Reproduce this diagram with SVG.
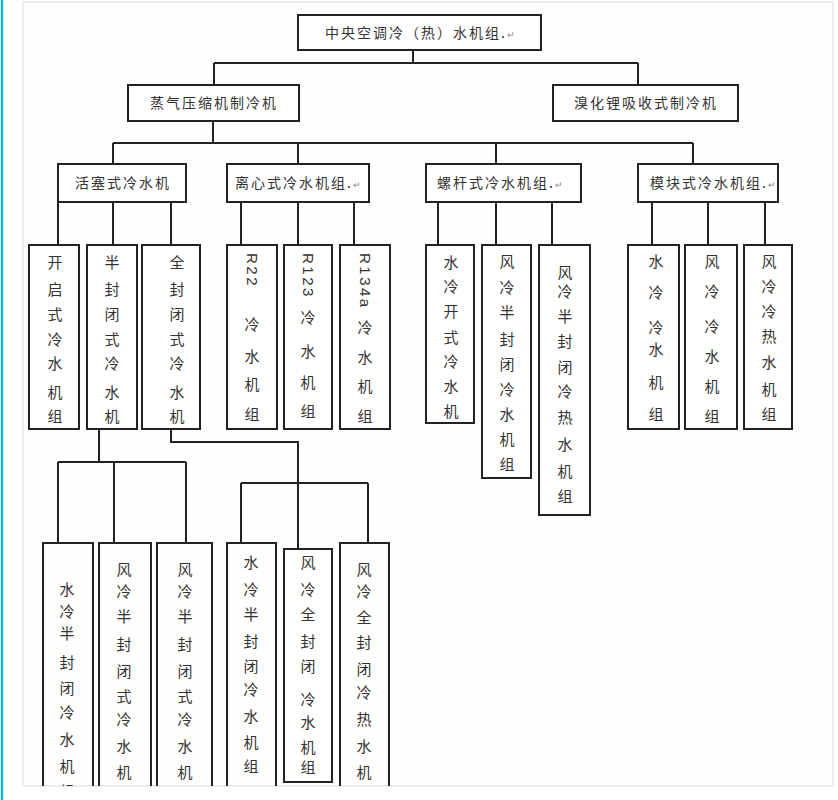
<svg xmlns="http://www.w3.org/2000/svg" width="838" height="800" viewBox="0 0 838 800">
<style>
.box{fill:#fff;stroke:#222;stroke-width:2}
.open{fill:none;stroke:#222;stroke-width:2}
.ln{fill:none;stroke:#222;stroke-width:2}
.h{font-family:"Noto Sans CJK SC","Noto Sans",sans-serif;font-size:14px;fill:#333;text-anchor:middle;letter-spacing:2px}
.v{font-family:"Noto Sans CJK SC","Noto Sans",sans-serif;font-size:15px;fill:#333;text-anchor:middle}
.r{font-family:"Liberation Sans","Noto Sans",sans-serif;font-size:15px;fill:#333;letter-spacing:2.5px;dominant-baseline:central}
.pm{font-size:9px;fill:#888;letter-spacing:0}
</style>
<defs>
<clipPath id="frame"><rect x="23" y="2" width="810" height="784"/></clipPath>
</defs>
<rect x="0" y="0" width="838" height="800" fill="#fff"/>
<rect x="23" y="2" width="810" height="784" fill="#fefefd" stroke="#e6e6e6" stroke-width="1.5"/>
<line x1="2" y1="0" x2="2" y2="800" stroke="#1cb2d6" stroke-width="2.5"/>

<g clip-path="url(#frame)">
<g id="connectors">
<path class="ln" d="M413,50V63M214,63H638M214,63V85M638,63V85"/>
<path class="ln" d="M213,121V143M113,143H693M113,143V164M298,143V164M496,143V164M693,143V164"/>
<path class="ln" d="M58,202V245M113,202V245M171,202V245M241,202V245M298,202V245M354,202V245M438,202V245M496,202V245M552,202V245M652,202V245M708,202V245M765,202V245"/>
<path class="ln" d="M99,429V462M58,462H186M58,462V543M114,462V543M186,462V543"/>
<path class="ln" d="M171,429V442H298V549M241,483H368M241,483V543M368,483V543"/>
</g>

<g id="n-root">
<rect class="box" x="298" y="15" width="243" height="35"/>
<text class="h" x="420" y="38">中央空调冷（热）水机组.<tspan class="pm">↵</tspan></text>
</g>
<g id="n-vapor">
<rect class="box" x="128" y="85" width="171" height="36"/>
<text class="h" x="214" y="108">蒸气压缩机制冷机</text>
</g>
<g id="n-absorb">
<rect class="box" x="553" y="85" width="185" height="36"/>
<text class="h" x="646" y="108">溴化锂吸收式制冷机</text>
</g>

<g id="n-piston">
<rect class="box" x="58" y="164" width="128" height="38"/>
<text class="h" x="123" y="188">活塞式冷水机</text>
</g>
<g id="n-centri">
<rect class="box" x="227" y="164" width="142" height="38"/>
<text class="h" x="298" y="188">离心式冷水机组.<tspan class="pm">↵</tspan></text>
</g>
<g id="n-screw">
<rect class="box" x="426" y="164" width="155" height="38"/>
<text class="h" x="500" y="188">螺杆式冷水机组.<tspan class="pm">↵</tspan></text>
</g>
<g id="n-module">
<rect class="box" x="638" y="164" width="140" height="38"/>
<text class="h" x="713" y="188">模块式冷水机组.<tspan class="pm">↵</tspan></text>
</g>

<g id="n-open">
<rect class="box" x="29" y="245" width="50" height="184"/>
<text class="v"><tspan x="55" y="268">开</tspan><tspan x="55" y="295">启</tspan><tspan x="55" y="320">式</tspan><tspan x="55" y="345">冷</tspan><tspan x="55" y="369">水</tspan><tspan x="55" y="398">机</tspan><tspan x="55" y="422">组</tspan></text>
</g>
<g id="n-semi">
<rect class="box" x="87" y="245" width="50" height="184"/>
<text class="v"><tspan x="112" y="268">半</tspan><tspan x="112" y="295">封</tspan><tspan x="112" y="320">闭</tspan><tspan x="112" y="345">式</tspan><tspan x="112" y="369">冷</tspan><tspan x="112" y="398">水</tspan><tspan x="112" y="422">机</tspan></text>
</g>
<g id="n-full">
<rect class="box" x="142" y="245" width="58" height="184"/>
<text class="v"><tspan x="177" y="268">全</tspan><tspan x="177" y="295">封</tspan><tspan x="177" y="320">闭</tspan><tspan x="177" y="345">式</tspan><tspan x="177" y="369">冷</tspan><tspan x="177" y="398">水</tspan><tspan x="177" y="422">机</tspan></text>
</g>
<g id="n-r22">
<rect class="box" x="227" y="245" width="50" height="184"/>
<text class="r" transform="translate(252,253) rotate(90)">R22</text>
<text class="v"><tspan x="252" y="330">冷</tspan><tspan x="252" y="362">水</tspan><tspan x="252" y="390">机</tspan><tspan x="252" y="420">组</tspan></text>
</g>
<g id="n-r123">
<rect class="box" x="284" y="245" width="48" height="184"/>
<text class="r" transform="translate(308,253) rotate(90)">R123</text>
<text class="v"><tspan x="308" y="323">冷</tspan><tspan x="308" y="357">水</tspan><tspan x="308" y="388">机</tspan><tspan x="308" y="417">组</tspan></text>
</g>
<g id="n-r134a">
<rect class="box" x="340" y="245" width="50" height="184"/>
<text class="r" transform="translate(365,253) rotate(90)">R134a</text>
<text class="v"><tspan x="365" y="333">冷</tspan><tspan x="365" y="363">水</tspan><tspan x="365" y="392">机</tspan><tspan x="365" y="422">组</tspan></text>
</g>

<g id="n-wopen">
<rect class="box" x="426" y="245" width="48" height="178"/>
<text class="v"><tspan x="451" y="268">水</tspan><tspan x="451" y="292">冷</tspan><tspan x="451" y="317">开</tspan><tspan x="451" y="343">式</tspan><tspan x="451" y="367">冷</tspan><tspan x="451" y="392">水</tspan><tspan x="451" y="417">机</tspan></text>
</g>
<g id="n-asemi">
<rect class="box" x="482" y="245" width="49" height="233"/>
<text class="v"><tspan x="507" y="267">风</tspan><tspan x="507" y="293">冷</tspan><tspan x="507" y="318">半</tspan><tspan x="507" y="345">封</tspan><tspan x="507" y="370">闭</tspan><tspan x="507" y="395">冷</tspan><tspan x="507" y="420">水</tspan><tspan x="507" y="445">机</tspan><tspan x="507" y="470">组</tspan></text>
</g>
<g id="n-asemihp">
<rect class="box" x="539" y="245" width="51" height="270"/>
<text class="v"><tspan x="565" y="278">风</tspan><tspan x="565" y="297">冷</tspan><tspan x="565" y="322">半</tspan><tspan x="565" y="347">封</tspan><tspan x="565" y="373">闭</tspan><tspan x="565" y="397">冷</tspan><tspan x="565" y="423">热</tspan><tspan x="565" y="450">水</tspan><tspan x="565" y="477">机</tspan><tspan x="565" y="502">组</tspan></text>
</g>
<g id="n-mw">
<rect class="box" x="628" y="245" width="51" height="184"/>
<text class="v"><tspan x="656" y="267">水</tspan><tspan x="656" y="298">冷</tspan><tspan x="656" y="333">冷</tspan><tspan x="656" y="355">水</tspan><tspan x="656" y="388">机</tspan><tspan x="656" y="420">组</tspan></text>
</g>
<g id="n-ma">
<rect class="box" x="685" y="245" width="52" height="184"/>
<text class="v"><tspan x="712" y="267">风</tspan><tspan x="712" y="297">冷</tspan><tspan x="712" y="332">冷</tspan><tspan x="712" y="362">水</tspan><tspan x="712" y="392">机</tspan><tspan x="712" y="422">组</tspan></text>
</g>
<g id="n-mahp">
<rect class="box" x="744" y="245" width="48" height="184"/>
<text class="v"><tspan x="769" y="267">风</tspan><tspan x="769" y="292">冷</tspan><tspan x="769" y="317">冷</tspan><tspan x="769" y="342">热</tspan><tspan x="769" y="368">水</tspan><tspan x="769" y="395">机</tspan><tspan x="769" y="420">组</tspan></text>
</g>

<g id="n-b1">
<path class="open" d="M43,800V543H93V800"/>
<text class="v"><tspan x="67" y="595">水</tspan><tspan x="67" y="617">冷</tspan><tspan x="67" y="639">半</tspan><tspan x="67" y="668">封</tspan><tspan x="67" y="694">闭</tspan><tspan x="67" y="718">冷</tspan><tspan x="67" y="745">水</tspan><tspan x="67" y="772">机</tspan><tspan x="67" y="797">组</tspan></text>
</g>
<g id="n-b2">
<path class="open" d="M99,800V543H151V800"/>
<text class="v"><tspan x="124" y="575">风</tspan><tspan x="124" y="597">冷</tspan><tspan x="124" y="622">半</tspan><tspan x="124" y="650">封</tspan><tspan x="124" y="677">闭</tspan><tspan x="124" y="702">式</tspan><tspan x="124" y="725">冷</tspan><tspan x="124" y="752">水</tspan><tspan x="124" y="778">机</tspan></text>
</g>
<g id="n-b3">
<path class="open" d="M157,800V543H212V800"/>
<text class="v"><tspan x="185" y="575">风</tspan><tspan x="185" y="597">冷</tspan><tspan x="185" y="622">半</tspan><tspan x="185" y="650">封</tspan><tspan x="185" y="677">闭</tspan><tspan x="185" y="702">式</tspan><tspan x="185" y="725">冷</tspan><tspan x="185" y="752">水</tspan><tspan x="185" y="778">机</tspan></text>
</g>
<g id="n-b4">
<path class="open" d="M227,800V543H276V800"/>
<text class="v"><tspan x="251" y="568">水</tspan><tspan x="251" y="595">冷</tspan><tspan x="251" y="620">半</tspan><tspan x="251" y="647">封</tspan><tspan x="251" y="672">闭</tspan><tspan x="251" y="695">冷</tspan><tspan x="251" y="722">水</tspan><tspan x="251" y="748">机</tspan><tspan x="251" y="772">组</tspan></text>
</g>
<g id="n-b5">
<rect class="box" x="284" y="549" width="48" height="233"/>
<text class="v"><tspan x="308" y="568">风</tspan><tspan x="308" y="595">冷</tspan><tspan x="308" y="620">全</tspan><tspan x="308" y="647">封</tspan><tspan x="308" y="672">闭</tspan><tspan x="308" y="705">冷</tspan><tspan x="308" y="728">水</tspan><tspan x="308" y="753">机</tspan><tspan x="308" y="773">组</tspan></text>
</g>
<g id="n-b6">
<path class="open" d="M340,800V543H389V800"/>
<text class="v"><tspan x="364" y="575">风</tspan><tspan x="364" y="597">冷</tspan><tspan x="364" y="623">全</tspan><tspan x="364" y="648">封</tspan><tspan x="364" y="675">闭</tspan><tspan x="364" y="698">冷</tspan><tspan x="364" y="725">热</tspan><tspan x="364" y="752">水</tspan><tspan x="364" y="778">机</tspan></text>
</g>
</g>
</svg>
